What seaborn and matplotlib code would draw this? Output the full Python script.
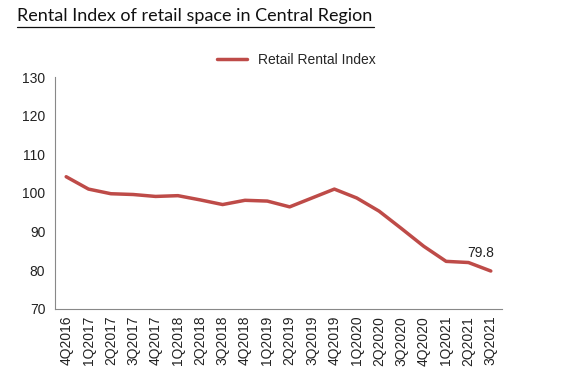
import matplotlib
matplotlib.use("Agg")
import matplotlib.pyplot as plt
import seaborn as sns
import pandas as pd

quarters = ["4Q2016", "1Q2017", "2Q2017", "3Q2017", "4Q2017", "1Q2018", "2Q2018",
            "3Q2018", "4Q2018", "1Q2019", "2Q2019", "3Q2019", "4Q2019", "1Q2020",
            "2Q2020", "3Q2020", "4Q2020", "1Q2021", "2Q2021", "3Q2021"]
rental_index = [104.2, 101.0, 99.8, 99.6, 99.1, 99.3, 98.2, 97.0, 98.1, 97.9,
                96.4, 98.7, 101.0, 98.7, 95.3, 90.8, 86.2, 82.3, 82.0, 79.8]
y_ticks = [70, 80, 90, 100, 110, 120, 130]

sns.set_style("white")
plt.rcParams['font.family'] = ['Liberation Sans', 'DejaVu Sans']

df = pd.DataFrame({"pos": range(len(quarters)), "value": rental_index})

fig = plt.figure(figsize=(5.82, 3.91), dpi=100)
ax = fig.add_axes([0.0945, 0.21, 0.768, 0.593])

sns.lineplot(data=df, x="pos", y="value", ax=ax, color="#BE4B48", linewidth=2.5,
             label="Retail Rental Index")

ax.set_xlim(-0.5, len(quarters) - 0.5)
ax.set_ylim(70, 130)
ax.set_yticks(y_ticks)
ax.set_yticklabels([str(t) for t in y_ticks], fontsize=10, color="#222222")

# ticks between categories, labels at category centres
ax.set_xticks([i - 0.5 for i in range(len(quarters) + 1)])
ax.set_xticklabels([])
ax.set_xticks(range(len(quarters)), minor=True)
ax.set_xticklabels(quarters, minor=True, rotation=90, fontsize=10, color="#222222")
ax.tick_params(axis="x", which="minor", length=0, pad=5)
ax.tick_params(axis="x", which="major", length=4, width=0.8, color="#888888", direction="out")
ax.tick_params(axis="y", length=4, width=0.8, color="#888888", direction="out", pad=3)
ax.set_xlabel("")
ax.set_ylabel("")

for s in ["top", "right"]:
    ax.spines[s].set_visible(False)
for s in ["left", "bottom"]:
    ax.spines[s].set_color("#888888")
    ax.spines[s].set_linewidth(0.8)

ax.annotate(f"{rental_index[-1]}", (len(quarters) - 1, rental_index[-1]),
            xytext=(-7, 8), textcoords="offset points", ha="center", va="bottom",
            fontsize=10, color="#222222")

leg = ax.legend(loc="lower center", bbox_to_anchor=(0.54, 1.0), frameon=False,
                fontsize=10, handlelength=2.2, borderaxespad=0.3)

fig.text(0.03, 0.958, "Rental Index of retail space in Central Region",
         fontsize=13, family=["Lato", "DejaVu Sans"], color="#111111",
         va="center", ha="left")
# underline for the title
fig.add_artist(plt.Line2D([0.03, 0.642], [0.932, 0.932], color="#111111", linewidth=0.9))

fig.savefig("out.png", dpi=100)
